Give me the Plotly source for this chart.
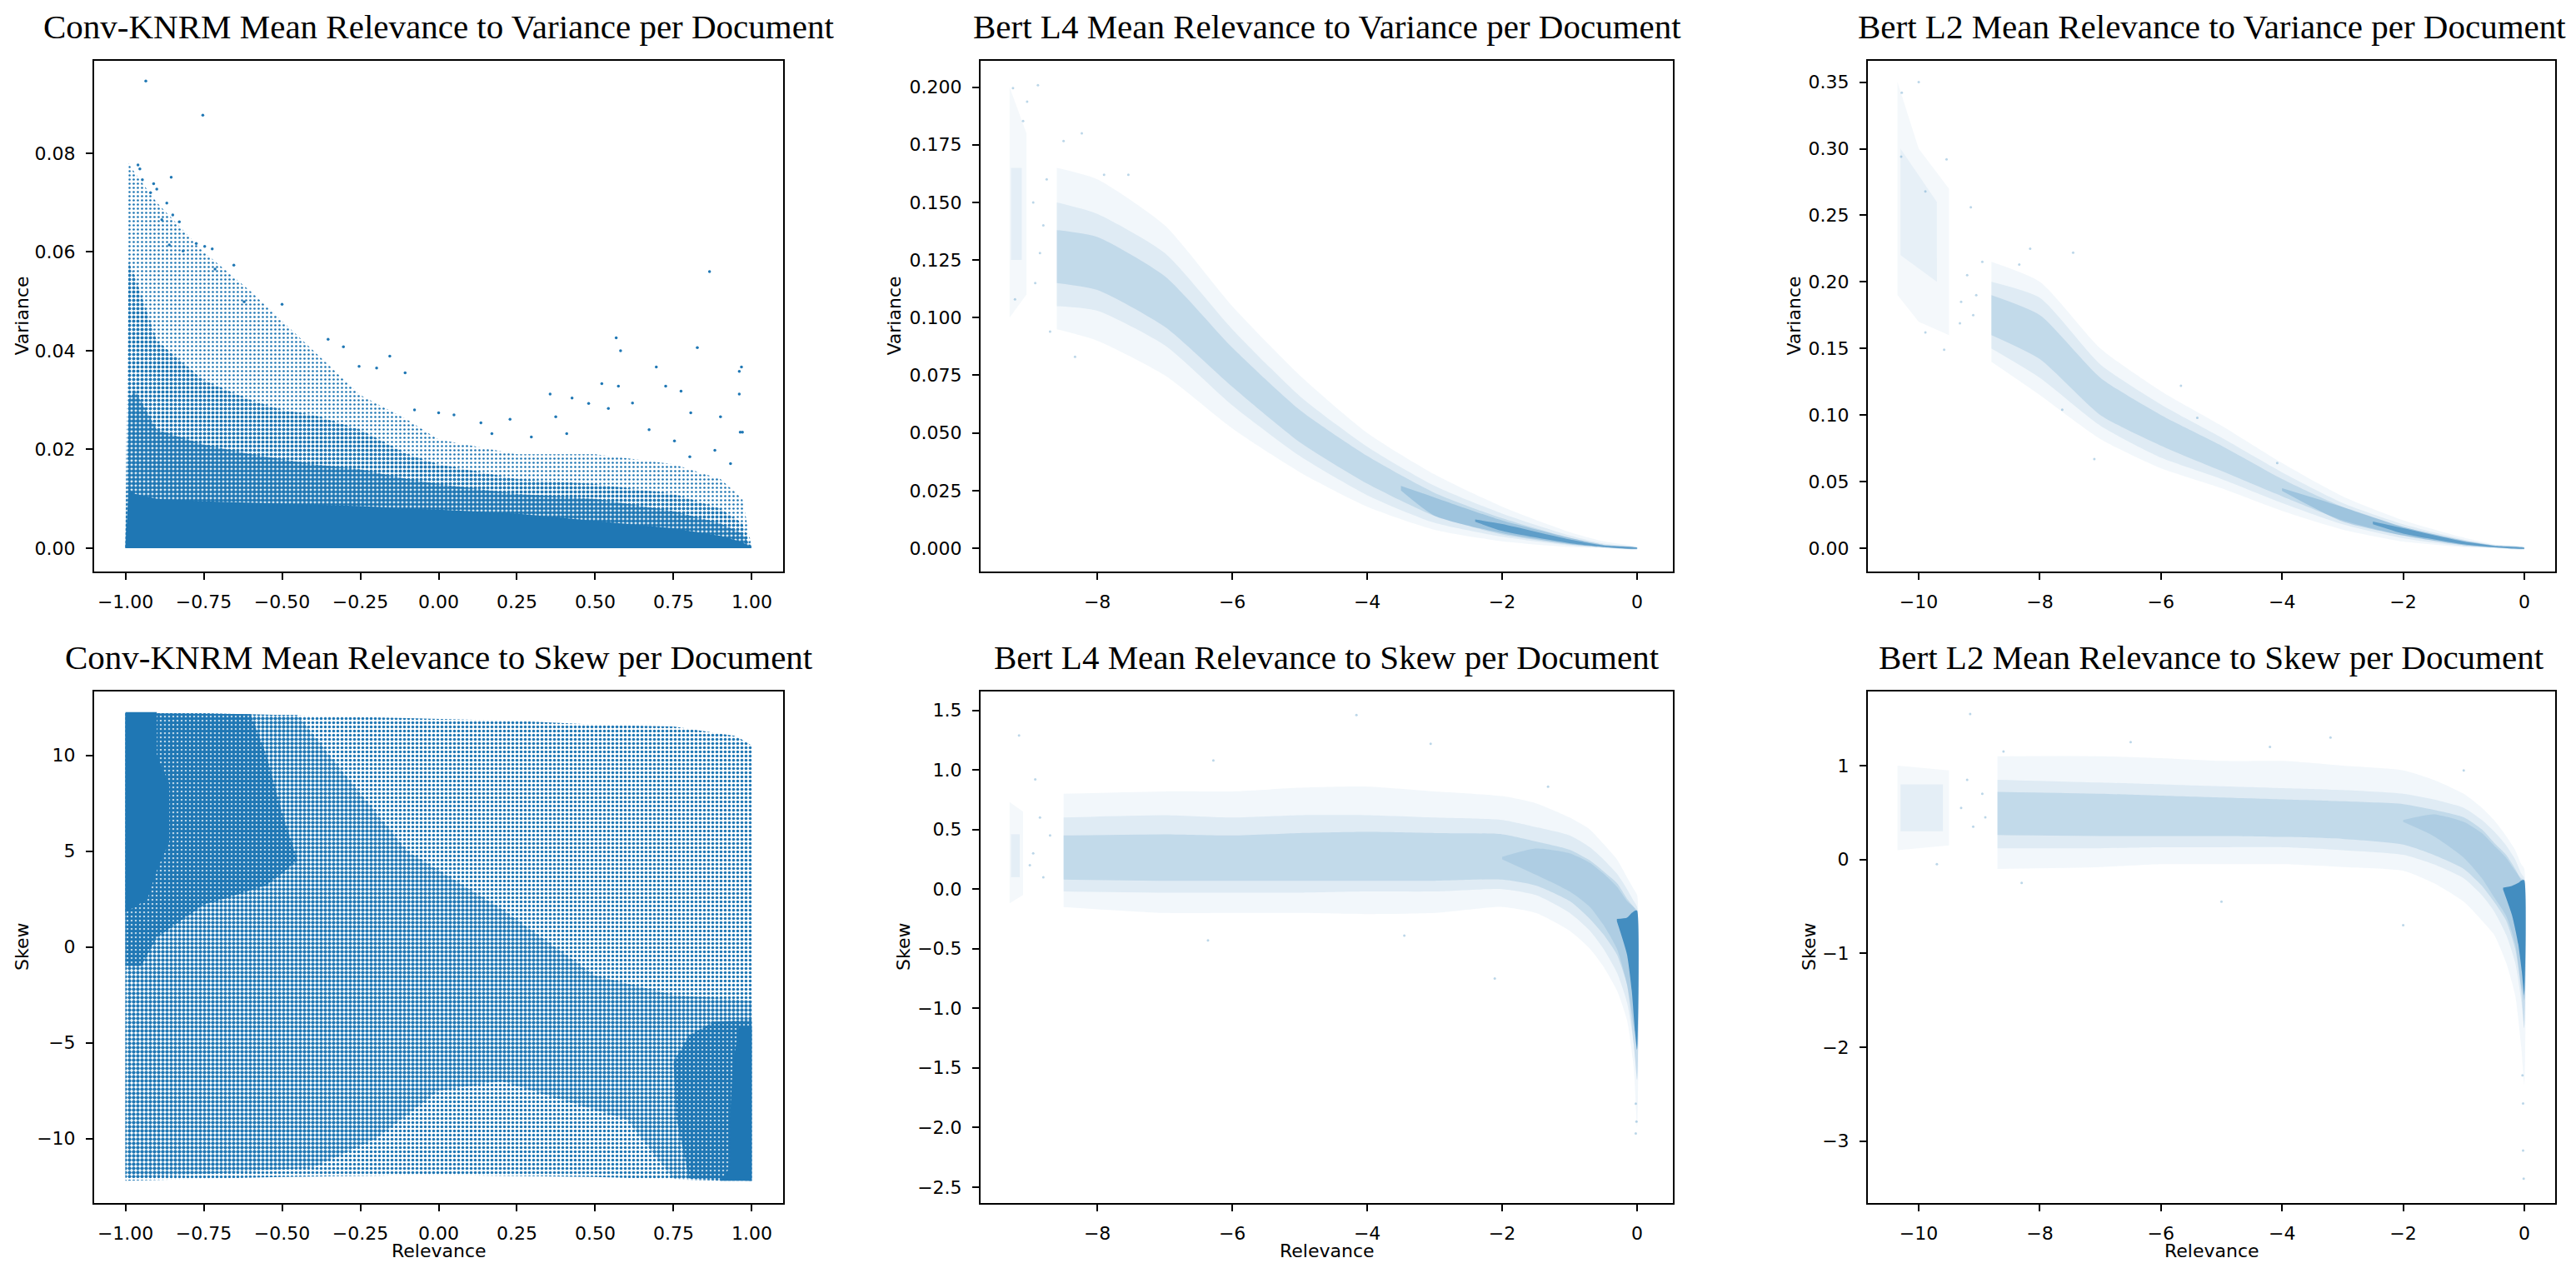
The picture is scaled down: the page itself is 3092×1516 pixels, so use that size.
import plotly.graph_objects as go
from plotly.subplots import make_subplots

W, H = 3092, 1516
BLUE = "#1f77b4"

# ---------------- Conv-KNRM: relevance vs variance ----------------
# density envelopes (upper edge of each density level, lower edge is 0)
knrm_var_x = [-1.0, -0.99, -0.97, -0.9, -0.75, -0.6, -0.5, -0.4, -0.25, -0.1, 0.0, 0.25, 0.5, 0.75, 0.9, 0.97, 1.0]
knrm_var_core = [0.0, 0.012, 0.011, 0.010, 0.0095, 0.0092, 0.009, 0.0088, 0.0085, 0.008, 0.0078, 0.007, 0.0055, 0.004, 0.0025, 0.0012, 0.0]
knrm_var_dense = [0.0, 0.030, 0.032, 0.024, 0.021, 0.019, 0.018, 0.017, 0.016, 0.014, 0.013, 0.011, 0.010, 0.0075, 0.005, 0.003, 0.0]
knrm_var_mid = [0.0, 0.058, 0.055, 0.042, 0.034, 0.030, 0.028, 0.027, 0.024, 0.019, 0.017, 0.014, 0.013, 0.011, 0.008, 0.005, 0.0]
knrm_var_outer = [0.0, 0.078, 0.076, 0.070, 0.060, 0.052, 0.046, 0.040, 0.031, 0.026, 0.022, 0.019, 0.019, 0.017, 0.014, 0.010, 0.0]
knrm_var_pts_x = [-0.935, -0.753, -0.854, -0.96, -0.954, -0.946, -0.91, -0.90, -0.92, -0.868, -0.849, -0.828,
                  -0.884, -0.774, -0.747, -0.723, -0.816, -0.86, -0.654, -0.714, 0.865, -0.50, -0.621, 0.567,
                  0.581, 0.826, 0.967, 0.96, -0.353, -0.304, -0.156, -0.107, -0.254, -0.198, 0.695, 0.521,
                  0.725, 0.774, 0.574, 0.356, 0.426, 0.96, -0.077, 0.0, 0.049, 0.374, 0.228, 0.805, 0.90,
                  0.97, 0.963, 0.882, 0.932, 0.135, 0.479, 0.619, 0.542, 0.672, 0.296, 0.409, 0.17, 0.753, 0.802]
knrm_var_pts_y = [0.0946, 0.0877, 0.0751, 0.0776, 0.0768, 0.0746, 0.0738, 0.0727, 0.072, 0.0699, 0.0675, 0.0661,
                  0.0665, 0.0617, 0.0611, 0.0606, 0.0602, 0.0614, 0.0573, 0.0565, 0.056, 0.0494, 0.0499, 0.0426,
                  0.040, 0.0406, 0.0367, 0.0358, 0.0423, 0.0408, 0.0389, 0.0355, 0.0368, 0.0365, 0.0367, 0.0333,
                  0.0328, 0.0318, 0.0328, 0.0312, 0.0304, 0.0312, 0.028, 0.0274, 0.027, 0.0266, 0.0261, 0.0274, 0.0266,
                  0.0235, 0.0235, 0.0198, 0.0171, 0.0254, 0.0293, 0.0294, 0.0283, 0.024, 0.0225, 0.0232, 0.0232, 0.0217, 0.0185]

# ---------------- Conv-KNRM: relevance vs skew ----------------
knrm_skew_base_x = [-1.0, -0.5, 0.0, 0.5, 0.9, 1.0, 1.0, 0.95, 0.75, 0.5, 0.25, 0.0, -0.25, -0.5, -0.75, -1.0]
knrm_skew_base_y = [-12.2, -12.0, -11.9, -12.0, -12.2, -12.2, 10.5, 11.0, 11.5, 11.6, 11.8, 11.9, 12.0, 12.1, 12.2, 12.2]
knrm_skew_mid_x = [-1.0, -1.0, -0.45, -0.3, -0.1, 0.2, 0.5, 0.75, 1.0, 1.0, 0.75, 0.6, 0.4, 0.2, 0.0, -0.2, -0.4, -0.7, -0.95]
knrm_skew_mid_y = [-12.0, 12.2, 12.1, 9.0, 5.0, 2.0, -1.5, -2.5, -2.8, -12.2, -12.1, -9.0, -8.0, -7.0, -7.5, -10.0, -11.5, -11.8, -12.0]
knrm_skew_dense_ul_x = [-1.0, -1.0, -0.6, -0.55, -0.5, -0.45, -0.55, -0.75, -0.9, -0.95]
knrm_skew_dense_ul_y = [-1.0, 12.2, 12.15, 10.0, 7.0, 4.5, 3.2, 2.2, 0.5, -1.0]
knrm_skew_dense_lr_x = [1.0, 1.0, 0.88, 0.8, 0.75, 0.76, 0.8]
knrm_skew_dense_lr_y = [-12.2, -3.8, -3.9, -4.6, -6.0, -9.0, -12.1]
knrm_skew_core_ul_x = [-1.0, -1.0, -0.9, -0.9, -0.86, -0.86, -0.9, -0.93]
knrm_skew_core_ul_y = [1.8, 12.25, 12.25, 10.0, 8.5, 5.5, 4.0, 2.5]
knrm_skew_core_lr_x = [1.0, 1.0, 0.96, 0.94, 0.93, 0.93, 0.9]
knrm_skew_core_lr_y = [-12.2, -4.2, -4.2, -6.0, -9.0, -11.5, -12.2]

# ---------------- Bert L4: relevance vs variance ----------------
l4_var_x = [-8.6, -8.0, -7.0, -6.0, -5.0, -4.0, -3.0, -2.0, -1.0, -0.5, 0.0]
l4_var_outer_hi = [0.165, 0.160, 0.140, 0.105, 0.075, 0.050, 0.032, 0.018, 0.007, 0.003, 0.0005]
l4_var_outer_lo = [0.095, 0.090, 0.075, 0.052, 0.033, 0.018, 0.008, 0.003, 0.0005, 0.0, -0.0005]
l4_var_mid_hi = [0.150, 0.145, 0.128, 0.095, 0.066, 0.044, 0.027, 0.015, 0.0055, 0.002, 0.0003]
l4_var_mid_lo = [0.105, 0.103, 0.088, 0.062, 0.040, 0.023, 0.011, 0.005, 0.0012, 0.0002, -0.0003]
l4_var_inner_hi = [0.138, 0.135, 0.118, 0.087, 0.060, 0.040, 0.024, 0.013, 0.0045, 0.0015, 0.0002]
l4_var_inner_lo = [0.115, 0.112, 0.096, 0.070, 0.046, 0.028, 0.014, 0.006, 0.0016, 0.0004, -0.0002]
l4_var_dark_x = [-3.5, -3.0, -2.0, -1.0, -0.5, 0.0]
l4_var_dark_hi = [0.027, 0.022, 0.012, 0.0045, 0.0015, 0.0003]
l4_var_dark_lo = [0.025, 0.014, 0.0065, 0.0018, 0.0004, -0.0003]
l4_var_core_x = [-2.4, -2.0, -1.0, -0.5, 0.0]
l4_var_core_hi = [0.0125, 0.0105, 0.0038, 0.0012, 0.0002]
l4_var_core_lo = [0.0115, 0.0075, 0.0022, 0.0006, -0.0002]
l4_var_left_x = [-9.3, -9.05, -9.05, -9.3]
l4_var_left_y = [0.10, 0.11, 0.18, 0.20]
l4_var_left_in_x = [-9.28, -9.12, -9.12, -9.28]
l4_var_left_in_y = [0.125, 0.125, 0.165, 0.165]
l4_var_pts_x = [-9.25, -8.88, -9.10, -9.04, -8.50, -8.23, -7.90, -7.54, -9.22, -8.70, -8.33, -8.95, -8.85, -8.80, -8.92, -8.75]
l4_var_pts_y = [0.1996, 0.2008, 0.1853, 0.1937, 0.1766, 0.180, 0.162, 0.162, 0.108, 0.094, 0.083, 0.150, 0.128, 0.140, 0.115, 0.160]

# ---------------- Bert L2: relevance vs variance ----------------
l2_var_x = [-8.8, -8.0, -7.0, -6.0, -5.0, -4.0, -3.0, -2.0, -1.0, -0.5, 0.0]
l2_var_outer_hi = [0.215, 0.200, 0.150, 0.118, 0.092, 0.064, 0.039, 0.021, 0.008, 0.003, 0.001]
l2_var_outer_lo = [0.140, 0.115, 0.082, 0.060, 0.045, 0.028, 0.014, 0.005, 0.0008, 0.0, -0.001]
l2_var_mid_hi = [0.200, 0.188, 0.138, 0.108, 0.083, 0.057, 0.034, 0.018, 0.0065, 0.0025, 0.0007]
l2_var_mid_lo = [0.150, 0.128, 0.092, 0.068, 0.052, 0.034, 0.018, 0.0075, 0.0015, 0.0003, -0.0007]
l2_var_inner_hi = [0.190, 0.175, 0.128, 0.100, 0.077, 0.052, 0.031, 0.016, 0.0055, 0.002, 0.0005]
l2_var_inner_lo = [0.160, 0.142, 0.100, 0.077, 0.058, 0.039, 0.021, 0.0095, 0.0022, 0.0005, -0.0005]
l2_var_dark_x = [-4.0, -3.0, -2.0, -1.0, -0.5, 0.0]
l2_var_dark_hi = [0.045, 0.031, 0.016, 0.0058, 0.0021, 0.0004]
l2_var_dark_lo = [0.043, 0.020, 0.0095, 0.0024, 0.0006, -0.0004]
l2_var_core_x = [-2.5, -2.0, -1.0, -0.5, 0.0]
l2_var_core_hi = [0.020, 0.015, 0.005, 0.0018, 0.0003]
l2_var_core_lo = [0.018, 0.011, 0.003, 0.0008, -0.0003]
l2_var_left_x = [-10.35, -10.0, -9.5, -9.5, -10.0, -10.35]
l2_var_left_y = [0.19, 0.17, 0.16, 0.27, 0.30, 0.35]
l2_var_left_in_x = [-10.3, -9.7, -9.7, -10.3]
l2_var_left_in_y = [0.22, 0.20, 0.26, 0.30]
l2_var_pts_x = [-10.28, -10.0, -10.29, -9.54, -9.89, -9.14, -8.16, -8.34, -7.45, -9.89, -9.32, -9.58, -7.63, -7.10,
                -5.67, -5.40, -4.08, -9.2, -9.05, -8.95, -9.3, -9.1]
l2_var_pts_y = [0.342, 0.350, 0.294, 0.292, 0.268, 0.256, 0.225, 0.213, 0.222, 0.162, 0.169, 0.149, 0.104, 0.067,
                0.122, 0.098, 0.064, 0.205, 0.19, 0.215, 0.185, 0.175]

# ---------------- Bert L4: relevance vs skew ----------------
l4_skew_x = [-8.5, -7.0, -6.0, -5.0, -4.0, -3.0, -2.0, -1.5, -1.0, -0.7, -0.5, -0.3, -0.15, -0.05, 0.0]
l4_skew_outer_hi = [0.80, 0.82, 0.82, 0.85, 0.86, 0.82, 0.78, 0.72, 0.60, 0.50, 0.38, 0.25, 0.10, 0.0, -0.05]
l4_skew_outer_lo = [-0.15, -0.20, -0.20, -0.20, -0.21, -0.20, -0.15, -0.20, -0.35, -0.50, -0.65, -0.85, -1.10, -1.50, -2.00]
l4_skew_mid_hi = [0.60, 0.62, 0.60, 0.62, 0.62, 0.60, 0.58, 0.52, 0.45, 0.35, 0.25, 0.13, 0.0, -0.10, -0.15]
l4_skew_mid_lo = [-0.02, -0.03, -0.03, -0.03, -0.02, -0.02, 0.0, -0.05, -0.20, -0.35, -0.50, -0.70, -0.95, -1.30, -1.60]
l4_skew_inner_hi = [0.45, 0.46, 0.45, 0.47, 0.48, 0.47, 0.46, 0.40, 0.33, 0.24, 0.15, 0.05, -0.08, -0.15, -0.20]
l4_skew_inner_lo = [0.08, 0.07, 0.07, 0.07, 0.07, 0.07, 0.08, 0.03, -0.10, -0.25, -0.38, -0.55, -0.80, -1.15, -1.35]
l4_skew_dark_x = [-2.0, -1.5, -1.0, -0.7, -0.5, -0.3, -0.15, -0.05, 0.0]
l4_skew_dark_hi = [0.27, 0.34, 0.30, 0.22, 0.13, 0.02, -0.10, -0.15, -0.18]
l4_skew_dark_lo = [0.25, 0.12, -0.02, -0.15, -0.30, -0.50, -0.80, -1.30, -1.60]
l4_skew_core_x = [-0.3, -0.15, -0.08, -0.03, 0.0]
l4_skew_core_hi = [-0.25, -0.24, -0.20, -0.18, -0.18]
l4_skew_core_lo = [-0.27, -0.55, -0.85, -1.20, -1.35]
l4_skew_left_x = [-9.3, -9.1, -9.1, -9.3]
l4_skew_left_y = [-0.12, -0.05, 0.65, 0.73]
l4_skew_left_in_x = [-9.28, -9.15, -9.15, -9.28]
l4_skew_left_in_y = [0.10, 0.10, 0.46, 0.46]
l4_skew_pts_x = [-9.16, -8.92, -4.16, -3.06, -6.28, -1.32, -3.45, -6.36, -2.11, -0.02, -0.01, -0.02,
                 -8.95, -8.8, -8.7, -9.0, -8.85]
l4_skew_pts_y = [1.29, 0.92, 1.46, 1.22, 1.08, 0.86, -0.39, -0.43, -0.75, -1.80, -1.95, -2.05,
                 0.3, 0.1, 0.45, 0.2, 0.6]

# ---------------- Bert L2: relevance vs skew ----------------
l2_skew_x = [-8.7, -7.0, -6.0, -5.0, -4.0, -3.0, -2.0, -1.5, -1.0, -0.7, -0.5, -0.3, -0.15, -0.05, 0.0]
l2_skew_outer_hi = [1.10, 1.10, 1.08, 1.05, 1.05, 1.00, 0.95, 0.85, 0.70, 0.55, 0.42, 0.25, 0.10, -0.05, -0.10]
l2_skew_outer_lo = [-0.10, -0.08, -0.05, -0.05, -0.05, -0.08, -0.12, -0.25, -0.45, -0.65, -0.80, -1.10, -1.45, -2.00, -2.40]
l2_skew_mid_hi = [0.85, 0.82, 0.80, 0.78, 0.76, 0.74, 0.70, 0.64, 0.55, 0.42, 0.30, 0.15, 0.0, -0.15, -0.20]
l2_skew_mid_lo = [0.12, 0.12, 0.13, 0.13, 0.13, 0.10, 0.05, -0.05, -0.20, -0.38, -0.55, -0.80, -1.10, -1.50, -1.80]
l2_skew_inner_hi = [0.72, 0.70, 0.68, 0.66, 0.64, 0.62, 0.59, 0.53, 0.45, 0.32, 0.18, 0.05, -0.10, -0.22, -0.25]
l2_skew_inner_lo = [0.26, 0.25, 0.25, 0.25, 0.24, 0.22, 0.16, 0.05, -0.10, -0.28, -0.45, -0.65, -0.95, -1.35, -1.50]
l2_skew_dark_x = [-2.0, -1.5, -1.0, -0.7, -0.5, -0.3, -0.15, -0.05, 0.0]
l2_skew_dark_hi = [0.42, 0.48, 0.40, 0.28, 0.15, 0.02, -0.12, -0.20, -0.22]
l2_skew_dark_lo = [0.40, 0.25, 0.02, -0.20, -0.40, -0.60, -0.90, -1.40, -1.80]
l2_skew_core_x = [-0.35, -0.2, -0.1, -0.04, 0.0]
l2_skew_core_hi = [-0.30, -0.28, -0.25, -0.22, -0.22]
l2_skew_core_lo = [-0.32, -0.60, -0.90, -1.20, -1.45]
l2_skew_left_x = [-10.35, -9.5, -9.5, -10.35]
l2_skew_left_y = [0.10, 0.15, 0.95, 1.00]
l2_skew_left_in_x = [-10.3, -9.6, -9.6, -10.3]
l2_skew_left_in_y = [0.30, 0.30, 0.80, 0.80]
l2_skew_pts_x = [-0.02, -0.02, -0.01, -0.03, -9.15, -8.6, -6.5, -4.2, -3.2, -1.0, -9.7, -8.3, -5.0, -2.0,
                 -9.3, -9.1, -8.95, -9.2, -8.9]
l2_skew_pts_y = [-2.6, -3.1, -3.4, -2.3, 1.55, 1.15, 1.25, 1.2, 1.3, 0.95, -0.05, -0.25, -0.45, -0.7,
                 0.55, 0.35, 0.7, 0.85, 0.45]

# ---------------- ticks ----------------
knrm_rel_ticks = [-1.0, -0.75, -0.5, -0.25, 0.0, 0.25, 0.5, 0.75, 1.0]
knrm_rel_labels = ["−1.00", "−0.75", "−0.50", "−0.25", "0.00", "0.25", "0.50", "0.75", "1.00"]
knrm_var_ticks = [0.0, 0.02, 0.04, 0.06, 0.08]
knrm_var_labels = ["0.00", "0.02", "0.04", "0.06", "0.08"]
knrm_skew_ticks = [-10, -5, 0, 5, 10]
knrm_skew_labels = ["−10", "−5", "0", "5", "10"]
l4_rel_ticks = [-8, -6, -4, -2, 0]
l4_rel_labels = ["−8", "−6", "−4", "−2", "0"]
l4_var_ticks = [0.0, 0.025, 0.05, 0.075, 0.1, 0.125, 0.15, 0.175, 0.2]
l4_var_labels = ["0.000", "0.025", "0.050", "0.075", "0.100", "0.125", "0.150", "0.175", "0.200"]
l4_skew_ticks = [-2.5, -2.0, -1.5, -1.0, -0.5, 0.0, 0.5, 1.0, 1.5]
l4_skew_labels = ["−2.5", "−2.0", "−1.5", "−1.0", "−0.5", "0.0", "0.5", "1.0", "1.5"]
l2_rel_ticks = [-10, -8, -6, -4, -2, 0]
l2_rel_labels = ["−10", "−8", "−6", "−4", "−2", "0"]
l2_var_ticks = [0.0, 0.05, 0.1, 0.15, 0.2, 0.25, 0.3, 0.35]
l2_var_labels = ["0.00", "0.05", "0.10", "0.15", "0.20", "0.25", "0.30", "0.35"]
l2_skew_ticks = [-3, -2, -1, 0, 1]
l2_skew_labels = ["−3", "−2", "−1", "0", "1"]

titles = [
    "Conv-KNRM Mean Relevance to Variance per Document",
    "Bert L4 Mean Relevance to Variance per Document",
    "Bert L2 Mean Relevance to Variance per Document",
    "Conv-KNRM Mean Relevance to Skew per Document",
    "Bert L4 Mean Relevance to Skew per Document",
    "Bert L2 Mean Relevance to Skew per Document",
]


def band(xs, upper, lower):
    """Closed polygon between two envelopes sharing the same x grid."""
    return list(xs) + list(xs)[::-1], list(upper) + list(lower)[::-1]


def add_area(fig, xs, ys, row, col, color="rgba(0,0,0,0)", pattern=None, smooth=False):
    line = dict(width=0, color=BLUE)
    if smooth:
        line.update(shape="spline", smoothing=0.6)
    fig.add_trace(go.Scatter(
        x=xs, y=ys, mode="lines", fill="toself", fillcolor=color,
        fillpattern=pattern, line=line, hoverinfo="skip", showlegend=False), row=row, col=col)


def add_points(fig, xs, ys, row, col, color=BLUE, size=3.5):
    fig.add_trace(go.Scatter(
        x=xs, y=ys, mode="markers", marker=dict(color=color, size=size, line=dict(width=0)),
        hoverinfo="skip", showlegend=False), row=row, col=col)


def dots(solidity):
    # same cell size everywhere so the dot grids of stacked layers line up
    return dict(shape=".", fgcolor=BLUE, bgcolor="rgba(0,0,0,0)", size=5,
                solidity=solidity, fillmode="replace")


def haze(alpha):
    return f"rgba(31,119,180,{alpha})"


ALPHA_OUT, ALPHA_MID, ALPHA_IN = 0.06, 0.09, 0.15


def add_bert_cloud(fig, row, col, xs, bands, extra, left, pts):
    for (hi, lo), a in zip(bands, (ALPHA_OUT, ALPHA_MID, ALPHA_IN)):
        add_area(fig, *band(xs, hi, lo), row, col, color=haze(a), smooth=True)
    for (ex, hi, lo), a in extra:
        add_area(fig, *band(ex, hi, lo), row, col, color=haze(a), smooth=True)
    for (lx, ly), a in left:
        add_area(fig, lx, ly, row, col, color=haze(a))
    add_points(fig, pts[0], pts[1], row, col, color=haze(0.3), size=3)


fig = make_subplots(rows=2, cols=3)

# --- panel 1: Conv-KNRM variance
zeros = [0.0] * len(knrm_var_x)
add_area(fig, *band(knrm_var_x, knrm_var_outer, zeros), 1, 1, pattern=dots(0.22))
add_area(fig, *band(knrm_var_x, knrm_var_mid, zeros), 1, 1, pattern=dots(0.48))
add_area(fig, *band(knrm_var_x, knrm_var_dense, zeros), 1, 1, pattern=dots(0.78))
add_area(fig, *band(knrm_var_x, knrm_var_core, zeros), 1, 1, color=BLUE)
add_points(fig, knrm_var_pts_x, knrm_var_pts_y, 1, 1)

# --- panel 4: Conv-KNRM skew
add_area(fig, knrm_skew_base_x, knrm_skew_base_y, 2, 1, pattern=dots(0.4))
add_area(fig, knrm_skew_mid_x, knrm_skew_mid_y, 2, 1, pattern=dots(0.58))
add_area(fig, knrm_skew_dense_ul_x, knrm_skew_dense_ul_y, 2, 1, pattern=dots(0.8))
add_area(fig, knrm_skew_dense_lr_x, knrm_skew_dense_lr_y, 2, 1, pattern=dots(0.8))
add_area(fig, knrm_skew_core_ul_x, knrm_skew_core_ul_y, 2, 1, color=BLUE)
add_area(fig, knrm_skew_core_lr_x, knrm_skew_core_lr_y, 2, 1, color=BLUE)

# --- panel 2: Bert L4 variance
add_bert_cloud(fig, 1, 2, l4_var_x,
               [(l4_var_outer_hi, l4_var_outer_lo), (l4_var_mid_hi, l4_var_mid_lo), (l4_var_inner_hi, l4_var_inner_lo)],
               [((l4_var_dark_x, l4_var_dark_hi, l4_var_dark_lo), 0.22),
                ((l4_var_core_x, l4_var_core_hi, l4_var_core_lo), 0.5)],
               [((l4_var_left_x, l4_var_left_y), 0.05), ((l4_var_left_in_x, l4_var_left_in_y), 0.07)],
               (l4_var_pts_x, l4_var_pts_y))

# --- panel 3: Bert L2 variance
add_bert_cloud(fig, 1, 3, l2_var_x,
               [(l2_var_outer_hi, l2_var_outer_lo), (l2_var_mid_hi, l2_var_mid_lo), (l2_var_inner_hi, l2_var_inner_lo)],
               [((l2_var_dark_x, l2_var_dark_hi, l2_var_dark_lo), 0.22),
                ((l2_var_core_x, l2_var_core_hi, l2_var_core_lo), 0.5)],
               [((l2_var_left_x, l2_var_left_y), 0.05), ((l2_var_left_in_x, l2_var_left_in_y), 0.06)],
               (l2_var_pts_x, l2_var_pts_y))

# --- panel 5: Bert L4 skew
add_bert_cloud(fig, 2, 2, l4_skew_x,
               [(l4_skew_outer_hi, l4_skew_outer_lo), (l4_skew_mid_hi, l4_skew_mid_lo), (l4_skew_inner_hi, l4_skew_inner_lo)],
               [((l4_skew_dark_x, l4_skew_dark_hi, l4_skew_dark_lo), 0.12),
                ((l4_skew_core_x, l4_skew_core_hi, l4_skew_core_lo), 0.75)],
               [((l4_skew_left_x, l4_skew_left_y), 0.05), ((l4_skew_left_in_x, l4_skew_left_in_y), 0.07)],
               (l4_skew_pts_x, l4_skew_pts_y))

# --- panel 6: Bert L2 skew
add_bert_cloud(fig, 2, 3, l2_skew_x,
               [(l2_skew_outer_hi, l2_skew_outer_lo), (l2_skew_mid_hi, l2_skew_mid_lo), (l2_skew_inner_hi, l2_skew_inner_lo)],
               [((l2_skew_dark_x, l2_skew_dark_hi, l2_skew_dark_lo), 0.12),
                ((l2_skew_core_x, l2_skew_core_hi, l2_skew_core_lo), 0.75)],
               [((l2_skew_left_x, l2_skew_left_y), 0.05), ((l2_skew_left_in_x, l2_skew_left_in_y), 0.07)],
               (l2_skew_pts_x, l2_skew_pts_y))

# --- axes: frame, ticks, ranges
frame = dict(showline=True, linecolor="black", linewidth=2, mirror=True, ticks="outside",
             ticklen=8, tickwidth=2, tickcolor="black", showgrid=False, zeroline=False,
             tickfont=dict(family="DejaVu Sans", size=22, color="black"), tickmode="array")
fig.update_xaxes(**frame, ticklabelstandoff=8)
fig.update_yaxes(**frame, ticklabelstandoff=8)

col_px = [(105, 932), (1169, 2000), (2234, 3059)]
row_px = [(65, 678), (822, 1436)]
x_ranges = [[-1.1, 1.1], [-9.73, 0.53], [-10.84, 0.51]]
x_ticks = [(knrm_rel_ticks, knrm_rel_labels), (l4_rel_ticks, l4_rel_labels), (l2_rel_ticks, l2_rel_labels)]
y_ranges = [[[-0.00473, 0.0987], [-0.0101, 0.2114], [-0.0175, 0.366]],
            [[-13.36, 13.33], [-2.634, 1.658], [-3.66, 1.79]]]
y_ticks = [[(knrm_var_ticks, knrm_var_labels), (l4_var_ticks, l4_var_labels), (l2_var_ticks, l2_var_labels)],
           [(knrm_skew_ticks, knrm_skew_labels), (l4_skew_ticks, l4_skew_labels), (l2_skew_ticks, l2_skew_labels)]]

for r in range(2):
    for c in range(3):
        x0, x1 = col_px[c]
        y0, y1 = row_px[r]
        fig.update_xaxes(domain=[x0 / W, x1 / W], range=x_ranges[c],
                         tickvals=x_ticks[c][0], ticktext=x_ticks[c][1], row=r + 1, col=c + 1)
        fig.update_yaxes(domain=[1 - y1 / H, 1 - y0 / H], range=y_ranges[r][c],
                         tickvals=y_ticks[r][c][0], ticktext=y_ticks[r][c][1], row=r + 1, col=c + 1)

# --- titles and axis labels as annotations
annotations = []
title_y = [24, 781]
for r in range(2):
    for c in range(3):
        x0, x1 = col_px[c]
        annotations.append(dict(text=titles[r * 3 + c], x=(x0 + x1) / 2 / W, y=1 - title_y[r] / H,
                                xref="paper", yref="paper", showarrow=False, xanchor="center", yanchor="middle",
                                font=dict(family="Liberation Serif", size=41, color="black")))

label_font = dict(family="DejaVu Sans", size=22, color="black")
ylabel_x = [[18, 1065, 2145], [18, 1076, 2163]]
ylabel_text = ["Variance", "Skew"]
for r in range(2):
    y0, y1 = row_px[r]
    for c in range(3):
        annotations.append(dict(text=ylabel_text[r], x=ylabel_x[r][c] / W, y=1 - (y0 + y1) / 2 / H,
                                xref="paper", yref="paper", showarrow=False, textangle=-90,
                                xanchor="center", yanchor="middle", font=label_font))
for c in range(3):
    x0, x1 = col_px[c]
    annotations.append(dict(text="Relevance", x=(x0 + x1) / 2 / W, y=1 - 1493 / H,
                            xref="paper", yref="paper", showarrow=False,
                            xanchor="center", yanchor="middle", font=label_font))

fig.update_layout(width=W, height=H, margin=dict(l=0, r=0, t=0, b=0),
                  paper_bgcolor="white", plot_bgcolor="white",
                  showlegend=False, annotations=annotations)

fig.write_html("out.html")
